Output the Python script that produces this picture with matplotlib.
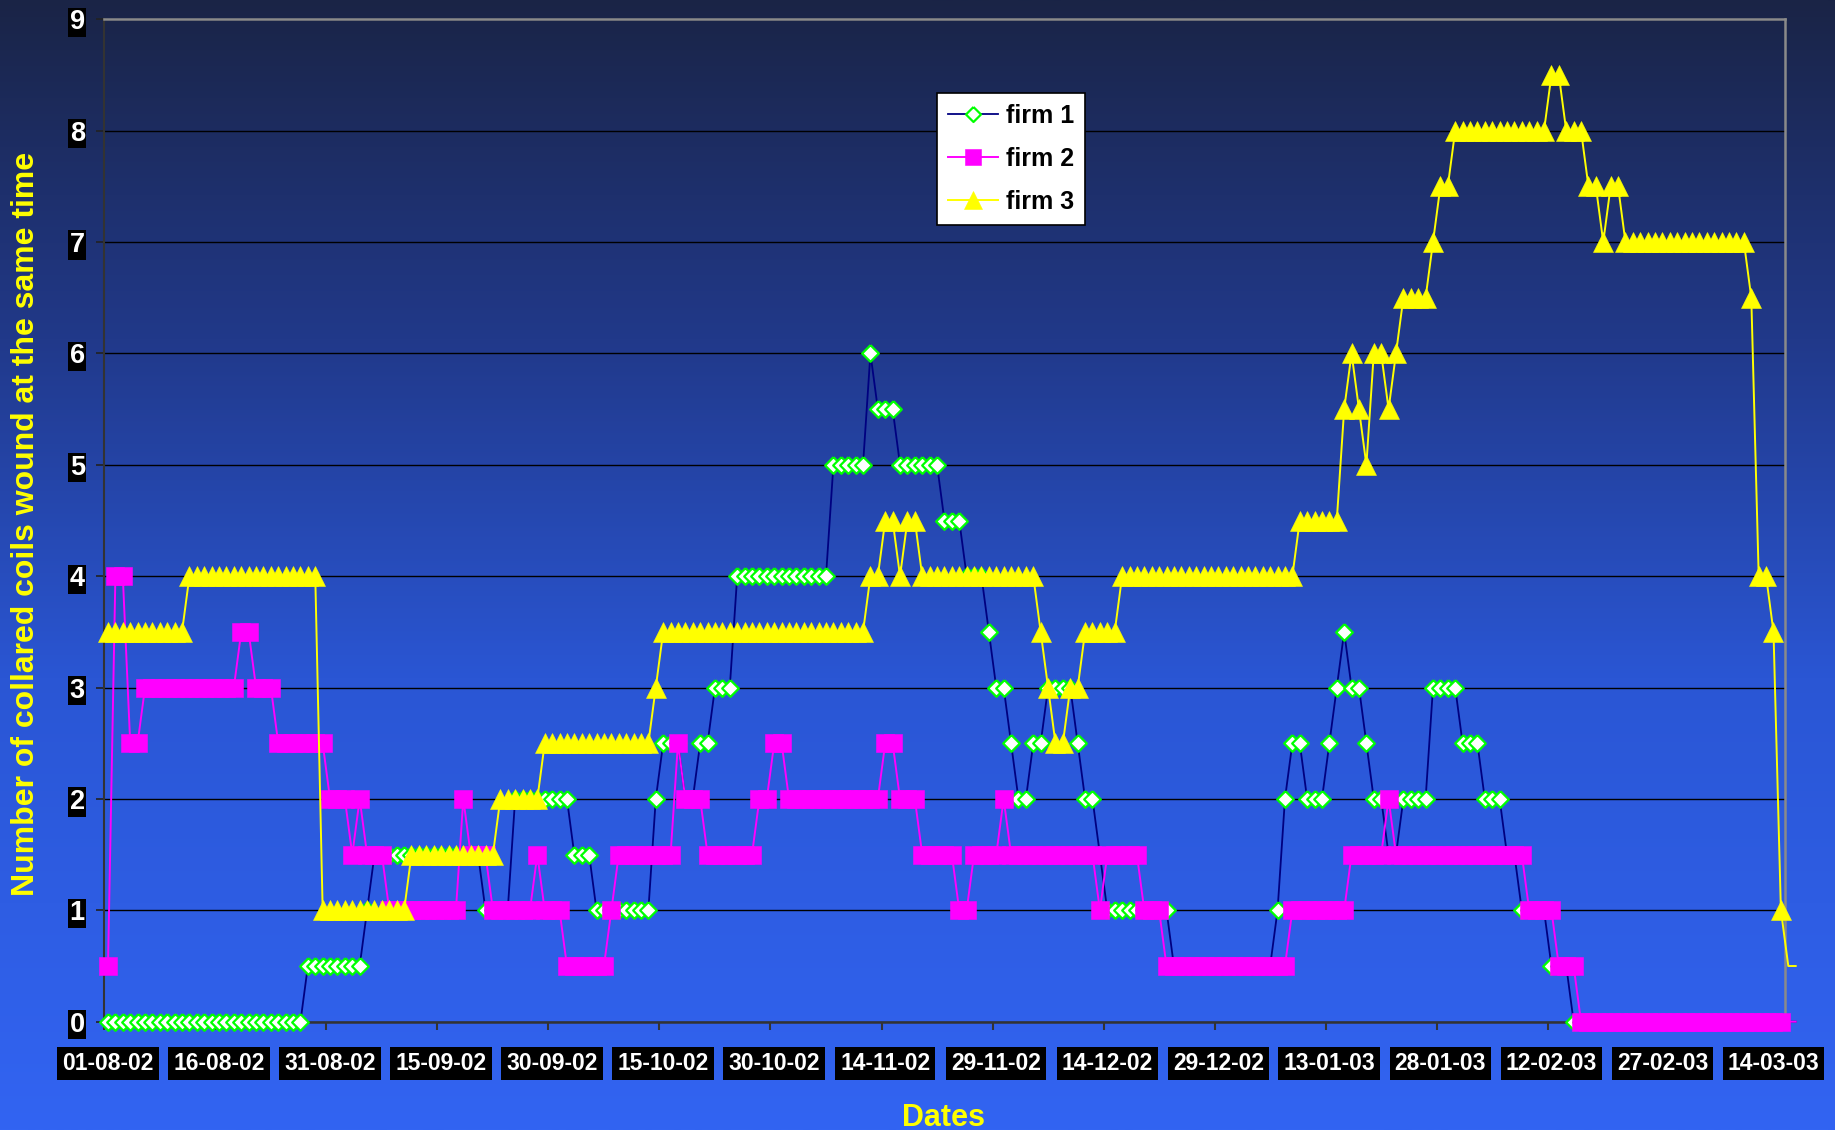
import numpy as np
import pandas as pd
import matplotlib
matplotlib.use("Agg")
import matplotlib.pyplot as plt
from matplotlib.lines import Line2D

# daily series, stored as steps: level and how many consecutive days it was held
start_date = "2002-08-01"

firm1_levels = [0, 0.5, 1, 1.5, 1, 2, 1.5, 1, 2, 2.5, 2, 2.5, 3, 4, 5, 6, 5.5, 5, 4.5, 4,
                3.5, 3, 2.5, 2, 2.5, 3, 2.5, 2, 1.5, 1, 0.5, 1, 2, 2.5, 2, 2.5, 3, 3.5, 3,
                2.5, 2, 1.5, 2, 3, 2.5, 2, 1.5, 1, 0.5, 0]
firm1_days = [27, 8, 1, 15, 4, 8, 3, 8, 1, 3, 2, 2, 3, 13, 5, 1, 3, 6, 3, 3,
              1, 2, 1, 2, 2, 4, 1, 2, 1, 9, 14, 1, 1, 2, 3, 1, 1, 1, 2,
              1, 2, 2, 4, 4, 3, 3, 2, 4, 3, 31]

firm2_levels = [0.5, 4, 2.5, 3, 3.5, 3, 2.5, 2, 1.5, 2, 1.5, 1, 2, 1.5, 1, 1.5, 1, 0.5, 1,
                1.5, 2.5, 2, 1.5, 2, 2.5, 2, 2.5, 2, 1.5, 1, 1.5, 2, 1.5, 1, 1.5, 1, 0.5,
                1, 1.5, 2, 1.5, 1, 0.5, 0]
firm2_days = [1, 2, 2, 13, 2, 3, 7, 3, 1, 1, 3, 10, 1, 3, 6, 1, 3, 6, 1,
              8, 1, 3, 7, 2, 2, 13, 2, 3, 5, 2, 4, 1, 12, 1, 5, 3, 17,
              8, 5, 1, 18, 4, 3, 30]

firm3_levels = [3.5, 4, 1, 1.5, 2, 2.5, 3, 3.5, 4, 4.5, 4, 4.5, 4, 3.5, 3, 2.5, 3, 3.5, 4,
                4.5, 5.5, 6, 5.5, 5, 6, 5.5, 6, 6.5, 7, 7.5, 8, 8.5, 8, 7.5, 7, 7.5, 7,
                6.5, 4, 3.5, 1, 0.5]
firm3_days = [11, 18, 12, 12, 6, 15, 1, 28, 2, 2, 1, 2, 16, 1, 1, 2, 2, 5, 24,
              6, 1, 1, 1, 1, 2, 1, 1, 4, 1, 2, 13, 2, 3, 2, 1, 2, 17,
              1, 2, 1, 1, 2]

series_names = ["firm 1", "firm 2", "firm 3"]

firm1 = np.repeat(firm1_levels, firm1_days)
firm2 = np.repeat(firm2_levels, firm2_days)
firm3 = np.repeat(firm3_levels, firm3_days)

n_days = len(firm1)
dates = pd.date_range(start_date, periods=n_days, freq="D")
day = np.arange(n_days)
last_shown = 226  # right edge of the plot area sits half a day after this one

plt.rcParams["font.family"] = ["Liberation Sans", "DejaVu Sans"]

fig = plt.figure(figsize=(18.35, 11.3), dpi=100)

# blue gradient behind everything
bg = fig.add_axes([0, 0, 1, 1], zorder=-10)
stops = np.array([0.0, 0.3, 0.6, 1.0])
cols = np.array([[26, 36, 70], [33, 57, 138], [42, 86, 212], [50, 100, 242]]) / 255
t = np.linspace(0, 1, 400)
grad = np.stack([np.interp(t, stops, cols[:, k]) for k in range(3)], axis=1)
bg.imshow(grad[:, None, :], aspect="auto", extent=[0, 1, 0, 1])
bg.axis("off")

ax = fig.add_axes([104.3 / 1835, 1 - 1021.7 / 1130, (1784.6 - 104.3) / 1835, (1021.7 - 19.3) / 1130])
ax.set_facecolor("none")

diamond = [(0, 1), (1, 0), (0, -1), (-1, 0), (0, 1)]
styles = [
    dict(color="#000080", lw=1.3, marker=diamond, ms=12, mfc="white", mec="#00FF00", mew=1.6),
    dict(color="#FF00FF", lw=1.4, marker="s", ms=13, mfc="#FF00FF", mec="#FF00FF", mew=0.4),
    dict(color="#FFFF00", lw=1.4, marker="^", ms=14.5, mfc="#FFFF00", mec="#FFFF00", mew=0.4),
]

shown = day <= last_shown
for vals, st in zip([firm1, firm2, firm3], styles):
    ax.plot(day, vals, color=st["color"], lw=st["lw"], clip_on=False, zorder=3)
    ax.plot(day[shown], vals[shown], ls="none", marker=st["marker"], ms=st["ms"],
            mfc=st["mfc"], mec=st["mec"], mew=st["mew"], clip_on=False, zorder=3)

ax.set_xlim(-0.5, last_shown + 0.5)
ax.set_ylim(0, 9)

label_days = np.arange(0, last_shown, 15)
ax.set_xticks(label_days)
ax.set_xticklabels(dates[label_days].strftime("%d-%m-%y"))
ax.set_xticks(np.arange(-0.5, last_shown, 15), minor=True)
ax.tick_params(axis="x", which="major", length=0, pad=22)
ax.tick_params(axis="x", which="minor", length=6, width=1.5, color="#333333", direction="out")
ax.set_yticks(range(0, 10))
ax.tick_params(axis="y", length=6, width=1.2, color="#222222", direction="out", pad=8)

for lbl in ax.get_xticklabels():
    lbl.set_fontsize(16.5)
    lbl.set_fontweight("bold")
    lbl.set_color("white")
    lbl.set_bbox(dict(boxstyle="square,pad=0.22", fc="black", ec="none"))
for lbl in ax.get_yticklabels():
    lbl.set_fontsize(19.5)
    lbl.set_fontweight("bold")
    lbl.set_color("white")
    lbl.set_bbox(dict(boxstyle="square,pad=0.06", fc="black", ec="none"))

ax.yaxis.grid(True, color="black", lw=1.0)
ax.set_axisbelow(True)
ax.spines["left"].set_color("#333333")
ax.spines["left"].set_linewidth(1.5)
ax.spines["bottom"].set_color("#333333")
ax.spines["bottom"].set_linewidth(1.8)
ax.spines["top"].set_color("#8a8a8a")
ax.spines["top"].set_linewidth(1.8)
ax.spines["right"].set_color("#8a8a8a")
ax.spines["right"].set_linewidth(1.8)

fig.text(25.7 / 1835, 1 - 524 / 1130, "Number of collared coils wound at the same time",
         rotation=90, ha="center", va="center", color="#FFFF00", fontsize=23, fontweight="bold")
fig.text(943 / 1835, 1 - 1118 / 1130, "Dates", ha="center", va="center",
         color="#FFFF00", fontsize=22, fontweight="bold")

handles = [Line2D([], [], color=st["color"], lw=st["lw"], marker=st["marker"], ms=st["ms"] * 0.9,
                  mfc=st["mfc"], mec=st["mec"], mew=st["mew"]) for st in styles]
leg = ax.legend(handles, series_names, loc="upper left", bbox_to_anchor=(937 / 1835, 1 - 92.7 / 1130),
                bbox_transform=fig.transFigure, borderaxespad=0, fancybox=False, framealpha=1,
                edgecolor="black", handlelength=2.0, labelspacing=0.76, borderpad=0.45,
                handletextpad=0.3, prop=dict(size=18, weight="bold"))
leg.get_frame().set_linewidth(1.2)
leg.set_zorder(5)

fig.savefig("out.png", dpi=100)
